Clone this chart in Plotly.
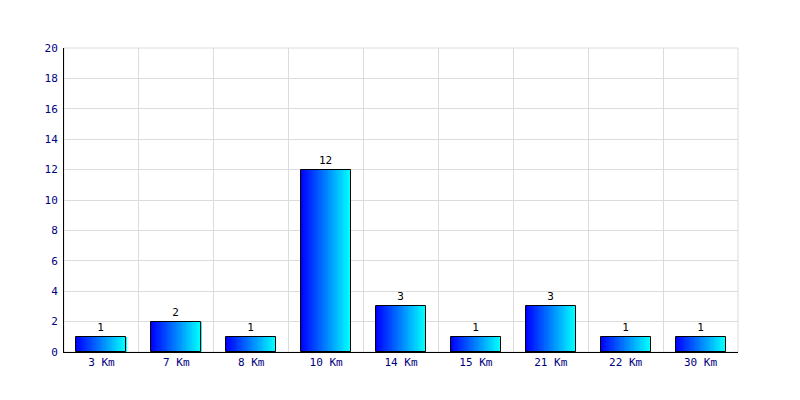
import plotly.graph_objects as go

categories = ["3 Km", "7 Km", "8 Km", "10 Km", "14 Km", "15 Km", "21 Km", "22 Km", "30 Km"]
values = [1, 2, 1, 12, 3, 1, 3, 1, 1]
y_ticks = list(range(0, 21, 2))

FONT = "DejaVu Sans Mono"
NAVY = "#000080"
BAR_W = 50 / 75
N = 40

fig = go.Figure()
step = BAR_W / N
for i in range(N):
    t = i / (N - 1)
    g = int(round(255 * t))
    fig.add_trace(go.Bar(
        x=categories, y=values,
        width=step * 1.15, offset=-BAR_W / 2 + i * step,
        marker=dict(color=f"rgb(0,{g},255)", line=dict(width=0)),
        hoverinfo="skip", showlegend=False,
    ))

fig.add_trace(go.Bar(
    x=categories, y=values, width=BAR_W,
    marker=dict(color="rgba(0,0,0,0)", line=dict(color="black", width=1)),
    text=[str(v) for v in values], textposition="outside",
    textfont=dict(family=FONT, size=11, color="black"),
    cliponaxis=False, showlegend=False,
))

fig.update_layout(
    width=800, height=400,
    margin=dict(l=56, r=70, t=40, b=56),
    paper_bgcolor="white", plot_bgcolor="white",
    barmode="overlay", bargap=0,
    font=dict(family=FONT, size=11, color=NAVY),
    xaxis=dict(
        type="category", range=[-0.5, len(categories) - 0.5],
        tickson="boundaries", showgrid=True, gridcolor="#dcdcdc", gridwidth=1,
        showline=True, linecolor="black", linewidth=1, ticks="",
        tickfont=dict(family=FONT, size=11, color=NAVY),
        mirror=False, zeroline=False,
    ),
    yaxis=dict(
        range=[0, 20], tickvals=y_ticks, showgrid=True, gridcolor="#dcdcdc", gridwidth=1,
        showline=True, linecolor="black", linewidth=1, ticks="",
        tickfont=dict(family=FONT, size=11, color=NAVY), zeroline=False,
        ticklabelstandoff=3,
    ),
    uniformtext=dict(minsize=11, mode="show"),
)
fig.add_shape(type="rect", xref="paper", yref="paper", x0=0, x1=1, y0=0, y1=1,
              line=dict(color="#dcdcdc", width=1), layer="below")

fig.write_html("out.html")
